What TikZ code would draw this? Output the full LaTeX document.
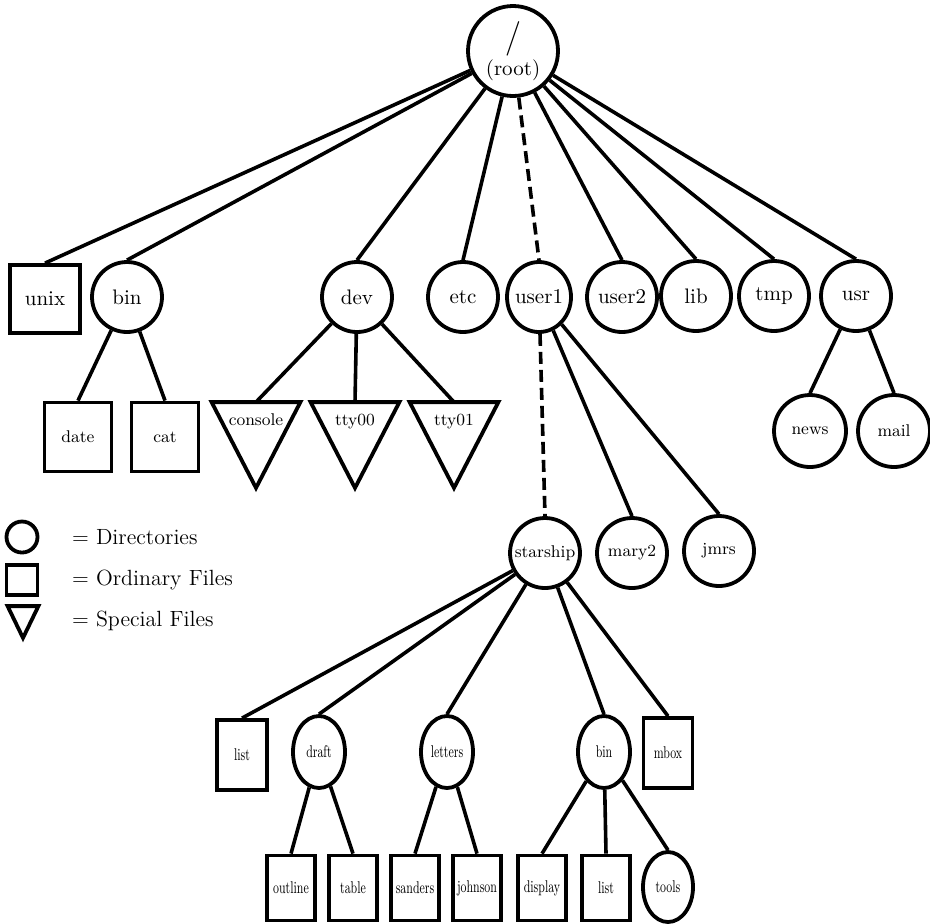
\documentclass[tikz,border=0pt]{standalone}
\usepackage{graphicx}
\usetikzlibrary{shapes.geometric}

\newcommand{\squeezed}[1]{\scalebox{0.68}[1]{#1}}

\begin{document}
\begin{tikzpicture}[x=0.5pt,y=-0.5pt]
		\tikzset{dirnode/.style={ellipse,draw,line width=1.9pt,inner sep=0pt,minimum width=35pt,minimum height=35pt}};
		\tikzset{filenode/.style={rectangle,draw,line width=1.9pt,inner sep=0pt,minimum width=35pt,minimum height=34pt}};
		\tikzset{specnode/.style={rectangle,inner sep=0pt,minimum width=44pt,minimum height=42.5pt,text height=11.5pt,text depth=31pt}};
		\tikzset{lab/.style={font=\fontsize{10.5}{12}\selectfont},sml/.style={font=\fontsize{8.5}{10}\selectfont}};
		\tikzset{branch/.style={line width=1.8pt},dashbranch/.style={branch,dash pattern=on 6pt off 3pt}};
		
		\useasboundingbox (0,0) rectangle (930,923);
		
		% top of the tree
		\node[dirnode,minimum size=45pt,lab,align=center] (root) at (513,51) {{\LARGE /}\\[1pt](root)};
		\node[filenode,lab] (unix) at (45,299) {unix};
		\node[dirnode,lab] (bin) at (127,297) {bin};
		\node[dirnode,lab] (dev) at (357,297) {dev};
		\node[dirnode,lab] (etc) at (463,297) {etc};
		\node[dirnode,lab,minimum width=32pt] (user1) at (539,297) {\makebox[0pt]{user1}};
		\node[dirnode,lab] (user2) at (622,297) {user2};
		\node[dirnode,lab] (lib) at (696,296) {lib};
		\node[dirnode,lab] (tmp) at (774,296) {tmp};
		\node[dirnode,lab] (usr) at (856,296) {usr};
		
		% second level
		\node[filenode,sml,minimum width=33.5pt,minimum height=34.5pt] (date) at (78,437) {date};
		\node[filenode,sml,minimum width=33.5pt,minimum height=34.5pt] (cat) at (165,437) {cat};
		\node[specnode,sml] (console) at (256,445) {console};
		\node[specnode,sml] (tty00) at (355,445) {tty00};
		\node[specnode,sml] (tty01) at (454,445) {tty01};
		\node[dirnode,sml,minimum size=36pt] (news) at (810,431) {news};
		\node[dirnode,sml,minimum size=36pt] (mail) at (894,431) {mail};
		\node[dirnode,sml] (starship) at (545,553) {\makebox[0pt]{starship}};
		\node[dirnode,sml] (mary2) at (632,553) {mary2};
		\node[dirnode,sml] (jmrs) at (719,551) {jmrs};
		
		% under starship
		\node[filenode,sml,minimum width=25pt,minimum height=35pt] (list) at (242,755) {\squeezed{list}};
		\node[dirnode,sml,minimum width=26pt,minimum height=36pt] (draft) at (319,752) {\squeezed{draft}};
		\node[dirnode,sml,minimum width=26pt,minimum height=36pt] (letters) at (447,752) {\squeezed{letters}};
		\node[dirnode,sml,minimum width=26pt,minimum height=36pt] (sbin) at (604,752) {\squeezed{bin}};
		\node[filenode,sml,minimum width=24.5pt,minimum height=35pt] (mbox) at (668,753) {\squeezed{mbox}};
		\foreach \n/\x/\t in {outline/291/outline,table/353/table,sanders/415/sanders,johnson/477/johnson,display/542/display,blist/606/list}
		\node[filenode,sml,minimum width=24pt,minimum height=32.5pt] (\n) at (\x,888) {\squeezed{\t}};
		\node[dirnode,sml,minimum width=25pt,minimum height=35pt] (tools) at (668,887) {\squeezed{tools}};
		
		% key
		\node[dirnode,minimum size=15.5pt] (legdir) at (22,537) {};
		\node[filenode,minimum width=15.5pt,minimum height=15pt] (legfile) at (22,580) {};
		\node[specnode,minimum width=15pt,minimum height=15.5pt,text height=0pt,text depth=0pt] (legspec) at (23,622) {};
		\node[anchor=west,font=\fontsize{11}{13}\selectfont] (txtdir) at (65,537) {= Directories};
		\node[anchor=west,font=\fontsize{11}{13}\selectfont] (txtfile) at (65,580) {= Ordinary Files};
		\node[anchor=west,font=\fontsize{11}{13}\selectfont] (txtspec) at (65,621) {= Special Files};
		
		\foreach \t in {console,tty00,tty01,legspec}
		\draw[line width=1.9pt] (\t.north west) -- (\t.north east) -- (\t.south) -- cycle;
		
		% branches
		\foreach \c in {unix,bin,dev,etc,user2,lib,tmp,usr}
		\draw[branch] (root) -- (\c.north);
		\draw[dashbranch] (root) -- (user1.north);
		\draw[dashbranch] (user1) -- (starship.north);
		\foreach \p/\c in {bin/date,bin/cat,dev/console,dev/tty00,dev/tty01,usr/news,usr/mail,user1/mary2,user1/jmrs,
			starship/list,starship/draft,starship/letters,starship/sbin,starship/mbox,
			draft/outline,draft/table,letters/sanders,letters/johnson,sbin/display,sbin/blist,sbin/tools}
		\draw[branch] (\p) -- (\c.north);
\end{tikzpicture}
\end{document}
